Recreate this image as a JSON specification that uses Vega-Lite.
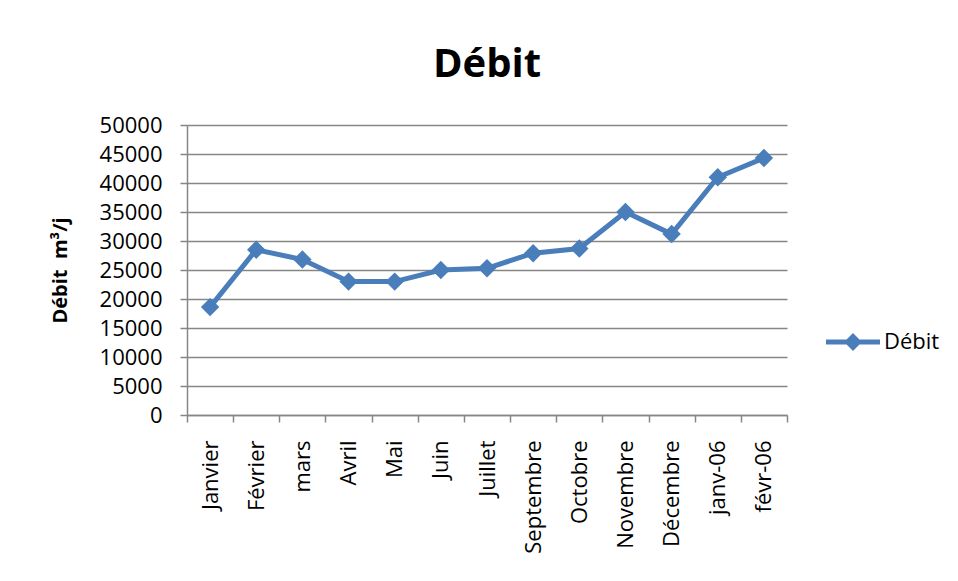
{
  "$schema": "https://vega.github.io/schema/vega-lite/v6.json",
  "width": 600,
  "height": 290,
  "autosize": {"type": "none"},
  "padding": {"left": 187, "top": 125, "right": 171, "bottom": 166},
  "background": "white",
  "title": {
    "text": "Débit",
    "fontSize": 40,
    "fontWeight": "bold",
    "font": "Open Sans",
    "color": "black",
    "anchor": "middle",
    "frame": "group",
    "baseline": "alphabetic",
    "offset": -3
  },
  "data": {
    "values": [
      {"mois": "Janvier", "debit": 18600, "serie": "Débit"},
      {"mois": "Février", "debit": 28500, "serie": "Débit"},
      {"mois": "mars", "debit": 26800, "serie": "Débit"},
      {"mois": "Avril", "debit": 23000, "serie": "Débit"},
      {"mois": "Mai", "debit": 23000, "serie": "Débit"},
      {"mois": "Juin", "debit": 25000, "serie": "Débit"},
      {"mois": "Juillet", "debit": 25300, "serie": "Débit"},
      {"mois": "Septembre", "debit": 27900, "serie": "Débit"},
      {"mois": "Octobre", "debit": 28700, "serie": "Débit"},
      {"mois": "Novembre", "debit": 35000, "serie": "Débit"},
      {"mois": "Décembre", "debit": 31200, "serie": "Débit"},
      {"mois": "janv-06", "debit": 41000, "serie": "Débit"},
      {"mois": "févr-06", "debit": 44300, "serie": "Débit"}
    ]
  },
  "mark": {
    "type": "line",
    "strokeWidth": 5,
    "point": {"shape": "diamond", "size": 340, "filled": true, "opacity": 1}
  },
  "encoding": {
    "x": {
      "field": "mois",
      "type": "ordinal",
      "sort": null,
      "bandPosition": 0.5,
      "scale": {"type": "band", "paddingInner": 0, "paddingOuter": 0},
      "axis": {
        "title": null,
        "labelAngle": -90,
        "labelAlign": "right",
        "labelBaseline": "middle",
        "labelFontSize": 22,
        "labelPadding": 18,
        "tickBand": "extent",
        "tickSize": 7,
        "tickWidth": 1.5,
        "tickColor": "#868686",
        "domainColor": "#868686",
        "domainWidth": 1.5,
        "grid": false,
        "labelColor": "black"
      }
    },
    "y": {
      "field": "debit",
      "type": "quantitative",
      "scale": {"domain": [0, 50000], "nice": false},
      "axis": {
        "values": [0, 5000, 10000, 15000, 20000, 25000, 30000, 35000, 40000, 45000, 50000],
        "format": "d",
        "title": "Débit\u00a0 m³/j",
        "titleFontSize": 20,
        "titleFontWeight": "bold",
        "titleColor": "black",
        "titleX": -127,
        "titleY": 145,
        "titleAngle": -90,
        "titleAlign": "center",
        "titleBaseline": "middle",
        "labelFontSize": 22,
        "labelColor": "black",
        "labelPadding": 18,
        "tickSize": 7,
        "tickWidth": 1.5,
        "tickColor": "#868686",
        "domainColor": "#868686",
        "domainWidth": 1.5,
        "grid": true,
        "gridColor": "#868686",
        "gridWidth": 1.5
      }
    },
    "color": {
      "field": "serie",
      "type": "nominal",
      "scale": {"range": ["#4a7ebb"]},
      "legend": {
        "title": null,
        "orient": "none",
        "legendX": 639,
        "legendY": 190,
        "padding": 0,
        "symbolType": "M-1,-0.09L1,-0.09L1,0.09L-1,0.09Z M0,-0.33L0.33,0L0,0.33L-0.33,0Z",
        "symbolSize": 2916,
        "symbolFillColor": "#4a7ebb",
        "symbolStrokeWidth": 0,
        "symbolOpacity": 1,
        "labelFontSize": 22,
        "labelColor": "black",
        "labelOffset": 4
      }
    }
  },
  "config": {
    "font": "Open Sans",
    "view": {"stroke": null}
  }
}
